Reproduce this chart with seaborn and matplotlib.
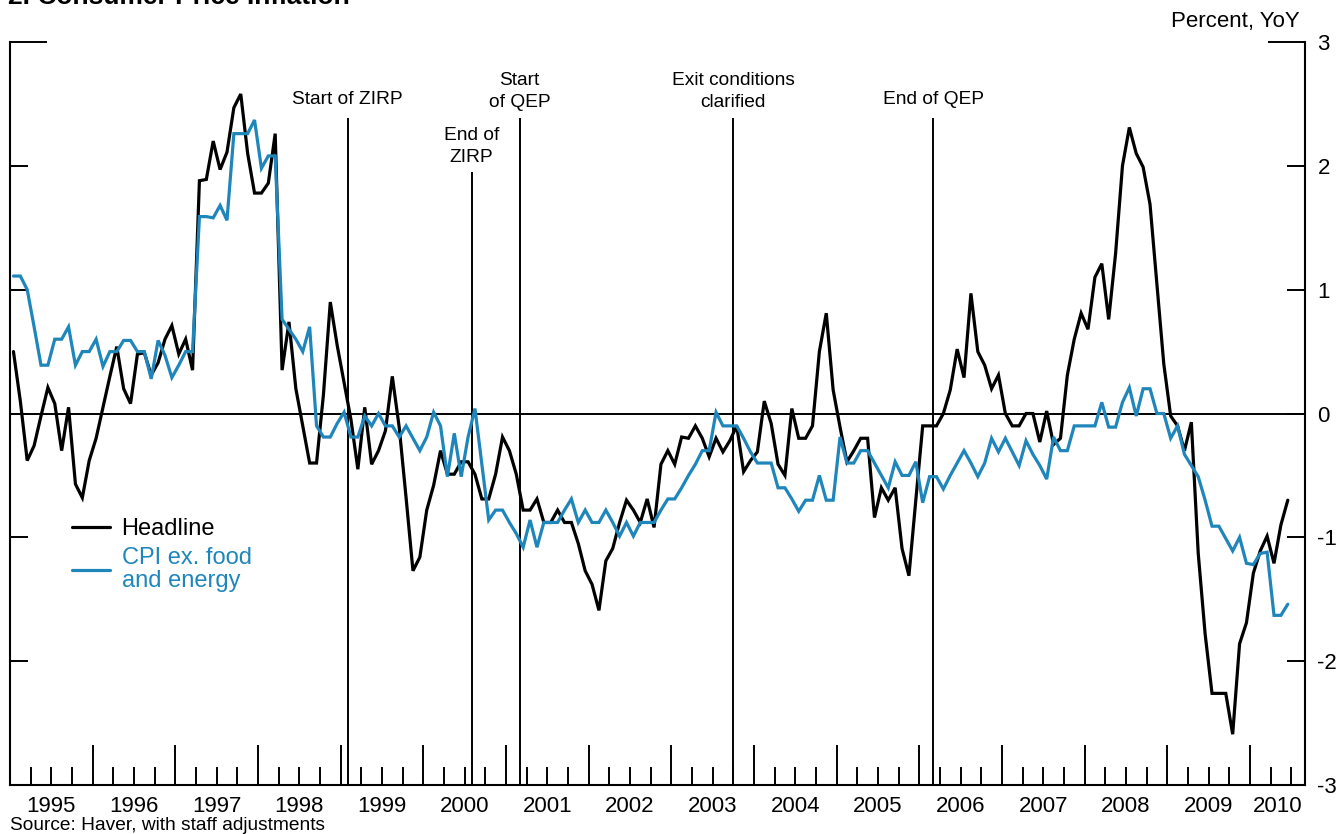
import numpy as np
import pandas as pd
import matplotlib
matplotlib.use("Agg")
import matplotlib.pyplot as plt
import matplotlib.transforms as mtransforms
from matplotlib.ticker import FixedLocator
from matplotlib.lines import Line2D
import seaborn as sns

# Monthly year-over-year CPI inflation, Jan 1995 - Jun 2010 (percent)
headline = [
    0.5, 0.1, -0.38, -0.26, -0.02, 0.21, 0.08, -0.30, 0.05, -0.57, -0.68, -0.38,   # 1995
    -0.2, 0.05, 0.3, 0.54, 0.2, 0.08, 0.48, 0.49, 0.31, 0.41, 0.6, 0.71,           # 1996
    0.48, 0.6, 0.35, 1.88, 1.89, 2.2, 1.97, 2.11, 2.47, 2.58, 2.1, 1.78,           # 1997
    1.78, 1.86, 2.26, 0.35, 0.74, 0.2, -0.1, -0.4, -0.4, 0.15, 0.9, 0.55,          # 1998
    0.25, -0.05, -0.45, 0.05, -0.41, -0.3, -0.14, 0.3, -0.11, -0.68, -1.27, -1.16, # 1999
    -0.78, -0.58, -0.3, -0.49, -0.49, -0.39, -0.39, -0.49, -0.69, -0.69, -0.49, -0.19,  # 2000
    -0.3, -0.49, -0.78, -0.78, -0.69, -0.88, -0.88, -0.78, -0.88, -0.88, -1.05, -1.27,  # 2001
    -1.38, -1.59, -1.19, -1.09, -0.88, -0.70, -0.78, -0.88, -0.69, -0.92, -0.41, -0.3,  # 2002
    -0.41, -0.19, -0.2, -0.1, -0.2, -0.35, -0.2, -0.31, -0.22, -0.1, -0.47, -0.38,      # 2003
    -0.31, 0.1, -0.08, -0.41, -0.5, 0.04, -0.2, -0.2, -0.1, 0.5, 0.81, 0.19,            # 2004
    -0.11, -0.39, -0.3, -0.2, -0.2, -0.84, -0.6, -0.7, -0.6, -1.09, -1.31, -0.7,        # 2005
    -0.1, -0.1, -0.1, 0.0, 0.19, 0.52, 0.29, 0.97, 0.5, 0.39, 0.2, 0.31,                # 2006
    0.0, -0.1, -0.1, 0.0, 0.0, -0.23, 0.02, -0.25, -0.2, 0.31, 0.6, 0.81,               # 2007
    0.68, 1.10, 1.21, 0.76, 1.29, 2.0, 2.31, 2.10, 1.99, 1.69, 1.05, 0.40,              # 2008
    -0.02, -0.1, -0.3, -0.07, -1.13, -1.78, -2.26, -2.26, -2.26, -2.59, -1.86, -1.69,   # 2009
    -1.29, -1.11, -0.99, -1.21, -0.9, -0.70,                                           # 2010
]

core = [
    1.11, 1.11, 1.0, 0.7, 0.39, 0.39, 0.6, 0.6, 0.7, 0.39, 0.5, 0.5,                   # 1995
    0.6, 0.38, 0.5, 0.5, 0.59, 0.59, 0.5, 0.5, 0.28, 0.59, 0.47, 0.29,                 # 1996
    0.39, 0.5, 0.5, 1.59, 1.59, 1.58, 1.68, 1.56, 2.26, 2.26, 2.26, 2.37,              # 1997
    1.98, 2.08, 2.08, 0.76, 0.68, 0.6, 0.5, 0.70, -0.1, -0.19, -0.19, -0.08,           # 1998
    0.01, -0.19, -0.19, -0.02, -0.1, 0.0, -0.1, -0.1, -0.19, -0.1, -0.2, -0.3,         # 1999
    -0.19, 0.01, -0.1, -0.51, -0.16, -0.51, -0.19, 0.04, -0.41, -0.86, -0.78, -0.78,   # 2000
    -0.88, -0.97, -1.08, -0.86, -1.08, -0.88, -0.88, -0.88, -0.78, -0.69, -0.88, -0.78,  # 2001
    -0.88, -0.88, -0.78, -0.88, -0.99, -0.88, -0.99, -0.88, -0.88, -0.88, -0.78, -0.69,  # 2002
    -0.69, -0.6, -0.5, -0.41, -0.3, -0.3, 0.01, -0.1, -0.1, -0.1, -0.2, -0.31,          # 2003
    -0.4, -0.4, -0.4, -0.6, -0.6, -0.69, -0.79, -0.7, -0.7, -0.5, -0.7, -0.7,           # 2004
    -0.19, -0.4, -0.4, -0.3, -0.3, -0.4, -0.5, -0.6, -0.39, -0.5, -0.5, -0.39,          # 2005
    -0.72, -0.51, -0.51, -0.61, -0.5, -0.4, -0.3, -0.4, -0.51, -0.4, -0.2, -0.31,       # 2006
    -0.2, -0.31, -0.42, -0.22, -0.33, -0.42, -0.53, -0.19, -0.3, -0.3, -0.1, -0.1,      # 2007
    -0.1, -0.1, 0.09, -0.11, -0.11, 0.09, 0.21, -0.02, 0.2, 0.2, 0.0, 0.0,              # 2008
    -0.2, -0.1, -0.33, -0.42, -0.51, -0.7, -0.91, -0.91, -1.01, -1.11, -1.0, -1.21,     # 2009
    -1.22, -1.13, -1.12, -1.63, -1.63, -1.54,                                          # 2010
]

series_names = ["Headline", "CPI ex. food\nand energy"]
year_labels = [str(y) for y in range(1995, 2011)]
y_ticks = [-3, -2, -1, 0, 1, 2, 3]

event_dates = ["1999-02", "2000-08", "2001-03", "2003-10", "2006-03"]
event_labels = ["Start of ZIRP", "End of\nZIRP", "Start\nof QEP",
                "Exit conditions\nclarified", "End of QEP"]

BLUE = "#1f86bb"

# ---- build long-form frame ----
dates = pd.date_range("1995-01-01", periods=len(headline), freq="MS")
t = dates.year + (dates.month - 0.5) / 12.0
df = pd.concat([
    pd.DataFrame({"t": t, "value": headline, "series": series_names[0]}),
    pd.DataFrame({"t": t, "value": core, "series": series_names[1]}),
], ignore_index=True)

sns.set_theme(style="white")
plt.rcParams["font.family"] = ["Liberation Sans", "DejaVu Sans"]

W, H = 1338, 834
fig = plt.figure(figsize=(W / 100, H / 100), dpi=100)
ax = fig.add_axes([10 / W, 49 / H, 1295 / W, 743 / H])

x_end = 2010 + 8 / 12
ax.set_xlim(1995, x_end)
ax.set_ylim(-3, 3)

ax.axhline(0, color="black", lw=1.4, zorder=1)

sns.lineplot(data=df, x="t", y="value", hue="series",
             palette={series_names[0]: "black", series_names[1]: BLUE},
             estimator=None, sort=False, linewidth=2.3, legend=False, ax=ax,
             zorder=3)
for ln in ax.lines:
    ln.set_solid_joinstyle("miter")

# ---- event markers ----
event_layout = [  # (line top, label bottom) in data units
    (2.39, 2.47), (1.95, 2.00), (2.39, 2.44), (2.39, 2.44), (2.39, 2.47),
]
for d, lab, (top, lab_y) in zip(event_dates, event_labels, event_layout):
    dd = pd.Timestamp(d)
    xe = dd.year + (dd.month - 1) / 12.0
    ax.vlines(xe, -3, top, color="black", lw=1.4, zorder=2)
    ax.text(xe, lab_y, lab, ha="center", va="bottom", fontsize=13.8,
            linespacing=1.38, color="black")

# ---- axes styling ----
for side in ["left", "right", "bottom"]:
    ax.spines[side].set_color("black")
    ax.spines[side].set_linewidth(1.5)
ax.spines["top"].set_visible(False)

ax.xaxis.set_major_locator(FixedLocator(list(range(1996, 2011))))
quarters = [y + q / 4 for y in range(1995, 2011) for q in (1, 2, 3) if y + q / 4 < x_end]
ax.xaxis.set_minor_locator(FixedLocator(quarters))
ax.tick_params(axis="x", which="major", direction="in", length=29, width=1.4,
               color="black", bottom=True, top=False, labelbottom=False)
ax.tick_params(axis="x", which="minor", direction="in", length=13, width=1.4,
               color="black", bottom=True, top=False, labelbottom=False)

ax.yaxis.set_major_locator(FixedLocator(y_ticks))
ax.set_yticklabels([str(v) for v in y_ticks])
ax.tick_params(axis="y", which="major", direction="in", length=13, width=1.4,
               color="black", left=True, right=True, labelleft=False,
               labelright=True, labelsize=16, pad=9, labelcolor="black")
top_tick = ax.yaxis.get_major_ticks()[-1]
top_tick.tick1line.set_markersize(26.5)
top_tick.tick2line.set_markersize(26.5)

ax.set_xlabel("")
ax.set_ylabel("")
ax.grid(False)

# year labels centred within each year
trans = mtransforms.blended_transform_factory(ax.transData, ax.transAxes)
for lab in year_labels:
    y = int(lab)
    xc = y + 0.5 if y + 1 <= x_end else (y + x_end) / 2
    ax.text(xc, -0.015, lab, transform=trans, ha="center", va="top",
            fontsize=16, color="black")

# ---- legend ----
handles = [Line2D([], [], color="black", lw=2.3),
           Line2D([], [], color=BLUE, lw=2.3)]
leg = ax.legend(handles, series_names, loc="upper left",
                bbox_to_anchor=(72 / W, 1 - 518 / H), bbox_transform=fig.transFigure,
                frameon=False, fontsize=17, handlelength=1.6, handletextpad=0.5,
                labelspacing=0.3, borderpad=0, borderaxespad=0,
                labelcolor=["black", BLUE])
for txt in leg.get_texts():
    txt.set_linespacing(1.05)

# ---- figure texts ----
fig.text(8 / W, 1 - 4 / H, "2. Consumer Price Inflation", fontsize=19,
         fontweight="bold", ha="left", va="baseline", color="black")
fig.text(1300 / W, 1 - 22 / H, "Percent, YoY", fontsize=16, ha="right",
         va="center", color="black")
fig.text(10 / W, 4 / H, "Source: Haver, with staff adjustments", fontsize=13.8,
         ha="left", va="baseline", color="black")

fig.savefig("out.png", dpi=100, facecolor="white")
